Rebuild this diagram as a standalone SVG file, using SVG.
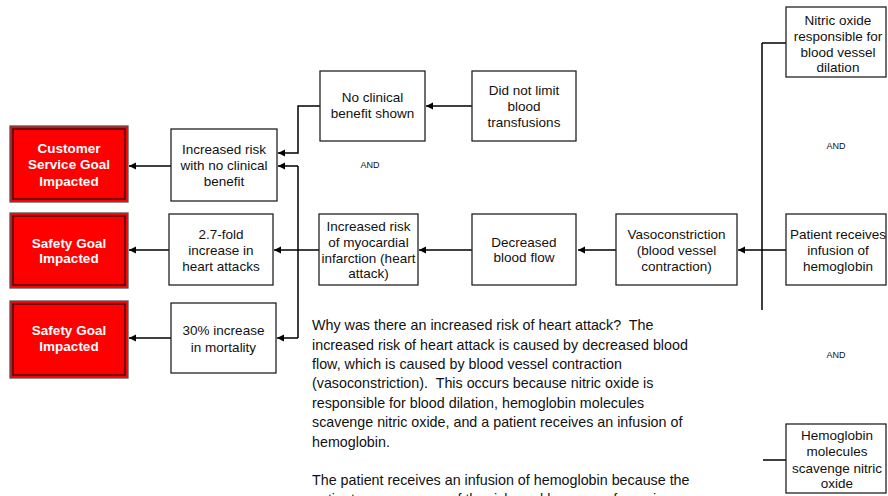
<svg xmlns="http://www.w3.org/2000/svg" width="888" height="496" viewBox="0 0 888 496">
<defs>
<marker id="ah" markerWidth="8" markerHeight="8" refX="7" refY="4" orient="auto" markerUnits="userSpaceOnUse">
<path d="M0,0.5 L7,4 L0,7.5 Z" fill="#000"/>
</marker>
<style>
.box{fill:#fff;stroke:#222;stroke-width:1.3}
.rbo{fill:#f00;stroke:#555;stroke-width:1.3}
.rbi{fill:none;stroke:#111;stroke-width:1.2}
.t{font-family:"Liberation Sans",Arial,sans-serif;font-size:13.5px;fill:#111;text-anchor:middle}
.rt{font-family:"Liberation Sans",Arial,sans-serif;font-size:13.5px;font-weight:bold;fill:#fff;text-anchor:middle}
.and{font-family:"Liberation Sans",Arial,sans-serif;font-size:9px;fill:#111;text-anchor:middle}
.p{font-family:"Liberation Sans",Arial,sans-serif;font-size:14.3px;fill:#111;white-space:pre}
.c{fill:none;stroke:#000;stroke-width:1.5}
.ca{fill:none;stroke:#000;stroke-width:1.5;marker-end:url(#ah)}
</style>
</defs>
<rect width="888" height="496" fill="#fff"/>
<g id="connectors">
<path class="ca" d="M472,106 H426"/>
<path class="ca" d="M320,106 H298 V153 H278"/>
<path class="c" d="M319,250 H298 M298,166 V338"/>
<path class="ca" d="M298,166 H278"/>
<path class="ca" d="M298,250 H274"/>
<path class="ca" d="M298,338 H277"/>
<path class="ca" d="M472,250 H419"/>
<path class="ca" d="M616,250 H578"/>
<path class="c" d="M786,43 H762 M762,43 V310 M786,250 H762"/>
<path class="ca" d="M762,250 H738"/>
<path class="c" d="M763,460 H786"/>
<path class="ca" d="M171,166 H129"/>
<path class="ca" d="M169,250 H129"/>
<path class="ca" d="M171,338 H129"/>
</g>
<g id="goal-customer">
<rect class="rbo" x="10" y="126" width="118" height="76"/>
<rect class="rbi" x="13" y="129" width="112" height="70"/>
<text class="rt" x="69" y="152.5">Customer</text>
<text class="rt" x="69" y="168.5">Service Goal</text>
<text class="rt" x="69" y="185.5">Impacted</text>
</g>
<g id="goal-safety-1">
<rect class="rbo" x="10" y="213" width="118" height="75"/>
<rect class="rbi" x="13" y="216" width="112" height="69"/>
<text class="rt" x="69" y="247.5">Safety Goal</text>
<text class="rt" x="69" y="262.5">Impacted</text>
</g>
<g id="goal-safety-2">
<rect class="rbo" x="10" y="301" width="118" height="77"/>
<rect class="rbi" x="13" y="304" width="112" height="71"/>
<text class="rt" x="69" y="334.5">Safety Goal</text>
<text class="rt" x="69" y="350.5">Impacted</text>
</g>
<g id="increased-risk">
<rect class="box" x="171" y="129" width="106" height="72"/>
<text class="t" x="224" y="153.5">Increased risk</text>
<text class="t" x="224" y="169.5">with no clinical</text>
<text class="t" x="224" y="185.5">benefit</text>
</g>
<g id="heart-attacks">
<rect class="box" x="169" y="214" width="104" height="71"/>
<text class="t" x="221" y="238.5">2.7-fold</text>
<text class="t" x="221" y="254.5">increase in</text>
<text class="t" x="221" y="270.5">heart attacks</text>
</g>
<g id="mortality">
<rect class="box" x="171" y="303" width="105" height="70"/>
<text class="t" x="223.5" y="334.5">30% increase</text>
<text class="t" x="223.5" y="351.5">in mortality</text>
</g>
<g id="no-clinical">
<rect class="box" x="320" y="71" width="105" height="70"/>
<text class="t" x="372.5" y="101.5">No clinical</text>
<text class="t" x="372.5" y="117.5">benefit shown</text>
</g>
<g id="transfusions">
<rect class="box" x="472" y="71" width="104" height="70"/>
<text class="t" x="524" y="94.5">Did not limit</text>
<text class="t" x="524" y="110.5">blood</text>
<text class="t" x="524" y="126.5">transfusions</text>
</g>
<text class="and" x="370" y="168">AND</text>
<g id="myocardial">
<rect class="box" x="319" y="214" width="99" height="71"/>
<text class="t" x="368.5" y="230.5">Increased risk</text>
<text class="t" x="368.5" y="246.5">of myocardial</text>
<text class="t" x="368.5" y="262.5">infarction (heart</text>
<text class="t" x="368.5" y="277.5">attack)</text>
</g>
<g id="blood-flow">
<rect class="box" x="472" y="214" width="104" height="71"/>
<text class="t" x="524" y="246.5">Decreased</text>
<text class="t" x="524" y="261.5">blood flow</text>
</g>
<g id="vasoconstriction">
<rect class="box" x="616" y="214" width="121" height="71"/>
<text class="t" x="676.5" y="238.5">Vasoconstriction</text>
<text class="t" x="676.5" y="254.5">(blood vessel</text>
<text class="t" x="676.5" y="270.5">contraction)</text>
</g>
<g id="nitric-oxide">
<rect class="box" x="786" y="7" width="100" height="70"/>
<text class="t" x="838" y="24.5">Nitric oxide</text>
<text class="t" x="838" y="40.5">responsible for</text>
<text class="t" x="838" y="56.5">blood vessel</text>
<text class="t" x="838" y="71.5">dilation</text>
</g>
<text class="and" x="836" y="149">AND</text>
<g id="patient-infusion">
<rect class="box" x="786" y="214" width="100" height="71"/>
<text class="t" x="838" y="238.5">Patient receives</text>
<text class="t" x="838" y="254.5">infusion of</text>
<text class="t" x="838" y="270.5">hemoglobin</text>
</g>
<text class="and" x="836" y="358">AND</text>
<g id="hemoglobin-scavenge">
<rect class="box" x="786" y="424" width="100" height="69"/>
<text class="t" x="837" y="439.5">Hemoglobin</text>
<text class="t" x="837" y="455.5">molecules</text>
<text class="t" x="837" y="472.5">scavenge nitric</text>
<text class="t" x="837" y="487.5">oxide</text>
</g>
<g id="explanation">
<text class="p" x="312" y="330">Why was there an increased risk of heart attack?  The</text>
<text class="p" x="312" y="350">increased risk of heart attack is caused by decreased blood</text>
<text class="p" x="312" y="369">flow, which is caused by blood vessel contraction</text>
<text class="p" x="312" y="388">(vasoconstriction).  This occurs because nitric oxide is</text>
<text class="p" x="312" y="408">responsible for blood dilation, hemoglobin molecules</text>
<text class="p" x="312" y="427">scavenge nitric oxide, and a patient receives an infusion of</text>
<text class="p" x="312" y="447">hemoglobin.</text>
<text class="p" x="312" y="485">The patient receives an infusion of hemoglobin because the</text>
<text class="p" x="312" y="504">patients are unaware of the risk, and because of ongoing</text>
</g>
</svg>
